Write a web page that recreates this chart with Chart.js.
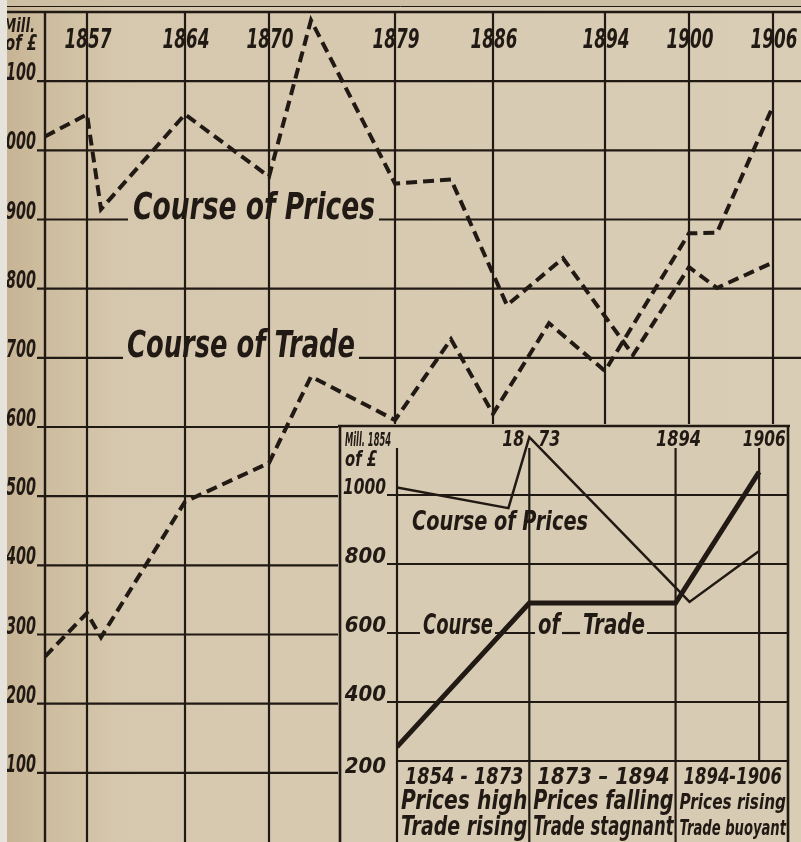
<!DOCTYPE html>
<html>
<head>
<meta charset="utf-8">
<title>Course of Prices and Course of Trade</title>
<script src="https://cdn.jsdelivr.net/npm/chart.js@4.4.0/dist/chart.umd.min.js"></script>
<style>
  html, body { margin: 0; padding: 0; background: #d8cbb3; }
  #wrap { position: relative; width: 801px; height: 842px; overflow: hidden; }
  #mainChart { position: absolute; left: 0; top: 0; width: 801px; height: 842px; }
  #insetChart { position: absolute; left: 338px; top: 424px; width: 452px; height: 418px; }
</style>
</head>
<body>
<div id="wrap">
  <canvas id="mainChart" width="801" height="842"></canvas>
  <canvas id="insetChart" width="452" height="418"></canvas>
</div>
<script>
// data (Mill. of £)

let priceYears = [1854, 1857, 1858, 1864, 1870, 1873, 1879, 1883, 1887, 1891, 1896, 1900, 1902, 1906];
let priceValues = [1020, 1052, 915, 1052, 962, 1188, 952, 958, 776, 844, 704, 831, 801, 838];

let tradeYears = [1854, 1857, 1858, 1864, 1870, 1873, 1879, 1883, 1886, 1890, 1894, 1900, 1902, 1906];
let tradeValues = [268, 331, 296, 492, 548, 673, 610, 727, 619, 750, 681, 880, 881, 1064];

let mainYearTicks = [1857, 1864, 1870, 1879, 1886, 1894, 1900, 1906];
let mainValueTicks = [100, 200, 300, 400, 500, 600, 700, 800, 900, 1000, 1100];

// small summary chart
let insetPriceYears = [1854, 1870, 1873, 1896, 1906];
let insetPriceValues = [1022, 962, 1168, 690, 838];
let insetTradeYears = [1854, 1873, 1894, 1906];
let insetTradeValues = [270, 687, 687, 1067];

let insetYearTicks = [1854, 1873, 1894, 1906];
let insetValueTicks = [200, 400, 600, 800, 1000];

let periodLabels = [
  ['1854 - 1873', 'Prices high', 'Trade rising'],
  ['1873 \u2013 1894', 'Prices falling', 'Trade stagnant'],
  ['1894-1906', 'Prices rising', 'Trade buoyant']
];

let ink = '#211913';
let paper = '#d8cbb3';
let fontFamily = '"Liberation Sans Narrow", "DejaVu Sans Condensed", "Roboto Condensed", sans-serif';

// where the inset sits on the big chart
let insetLeft = 340;
let insetTop = 426;

function pts(xs, ys) {
  return xs.map((x, i) => ({ x: x, y: ys[i] }));
}

function seg(ctx, x1, y1, x2, y2) {
  ctx.beginPath();
  ctx.moveTo(x1, y1);
  ctx.lineTo(x2, y2);
  ctx.stroke();
}

// writes text, returns the width it took
function write(ctx, s, x, y, size, align, maxW) {
  ctx.font = 'italic bold ' + size + 'px ' + fontFamily;
  ctx.textAlign = align || 'left';
  ctx.textBaseline = 'alphabetic';
  ctx.fillStyle = ink;
  let w = ctx.measureText(s).width;
  if (maxW) {
    ctx.fillText(s, x, y, maxW);
    w = Math.min(w, maxW);
  } else {
    ctx.fillText(s, x, y);
  }
  return w;
}

function gappedLine(ctx, x1, x2, y, gaps) {
  let start = x1;
  gaps.forEach(g => {
    if (g[0] > start) seg(ctx, start, y, g[0], y);
    start = Math.max(start, g[1]);
  });
  if (x2 > start) seg(ctx, start, y, x2, y);
}


//big chart

let mainDecor = {
  id: 'mainDecor',
  beforeDraw(chart) {
    let ctx = chart.ctx;
    let g = ctx.createLinearGradient(0, 0, chart.width, 0);
    g.addColorStop(0, '#c6b293');
    g.addColorStop(0.05, '#cdbc9e');
    g.addColorStop(0.15, '#d6c8ae');
    g.addColorStop(1, '#d9cdb6');
    ctx.save();
    ctx.fillStyle = g;
    ctx.fillRect(0, 0, chart.width, chart.height);
    ctx.fillStyle = '#cdbfa4';
    ctx.fillRect(0, 0, chart.width, 7);
    ctx.restore();
  },
  beforeDatasetsDraw(chart) {
    let ctx = chart.ctx, a = chart.chartArea, xs = chart.scales.x, ys = chart.scales.y;
    ctx.save();

    // series names sit on the 900 and 700 lines
    let pW = write(ctx, 'Course of Prices', 133, ys.getPixelForValue(900) - 1, 38, 'left', 242);
    let tW = write(ctx, 'Course of Trade', 127, ys.getPixelForValue(700) - 1, 37, 'left', 228);
    let gaps = { 900: [[128, 133 + pW + 4]], 700: [[123, 127 + tW + 4]] };

    ctx.strokeStyle = ink;
    ctx.lineWidth = 1;
    seg(ctx, 0, 6.5, chart.width, 6.5);
    ctx.lineWidth = 2.4;
    seg(ctx, 0, a.top, chart.width, a.top);
    seg(ctx, a.left, a.top, a.left, a.bottom);

    ctx.lineWidth = 2.2;
    mainValueTicks.forEach(v => {
      let y = ys.getPixelForValue(v);
      let right = y > insetTop ? insetLeft : a.right;
      gappedLine(ctx, 37, right, y, gaps[v] || []);
      let s = String(v);
      write(ctx, s, 36, y - 1, 24, 'right', 10 * s.length);
    });

    mainYearTicks.forEach(yr => {
      let x = xs.getPixelForValue(yr);
      let bottom = x > insetLeft ? insetTop : a.bottom;
      seg(ctx, x, a.top, x, bottom);
      write(ctx, String(yr), x + 1, 48, 27, 'center', 47);
    });

    write(ctx, 'Mill.', 35, 32, 19, 'right', 32);
    write(ctx, 'of \u00a3', 37, 50, 21, 'right', 32);
    ctx.restore();
  },
  afterDraw(chart) {
    // pale edge of the scan
    let ctx = chart.ctx;
    ctx.save();
    ctx.fillStyle = '#e6e3dd';
    ctx.fillRect(0, 0, 7, chart.height);
    ctx.restore();
  }
};

let dashed = {
  borderColor: ink,
  borderWidth: 4,
  borderDash: [11, 6],
  borderCapStyle: 'butt',
  borderJoinStyle: 'miter',
  pointRadius: 0,
  tension: 0,
  fill: false
};

let mainChart = new Chart(document.getElementById('mainChart').getContext('2d'), {
  type: 'line',
  data: {
    datasets: [
      Object.assign({ label: 'Course of Prices', data: pts(priceYears, priceValues) }, dashed),
      Object.assign({ label: 'Course of Trade', data: pts(tradeYears, tradeValues) }, dashed)
    ]
  },
  options: {
    responsive: false,
    animation: false,
    layout: { padding: { left: 45, top: 12, right: 0, bottom: 0 } },
    scales: {
      x: { type: 'linear', min: 1854, max: 1908, display: false },
      y: { type: 'linear', min: 0, max: 1200, display: false }
    },
    plugins: {
      legend: { display: false },
      tooltip: { enabled: false }
    }
  },
  plugins: [mainDecor]
});


//inset chart

let insetDecor = {
  id: 'insetDecor',
  beforeDraw(chart) {
    let ctx = chart.ctx;
    ctx.save();
    ctx.fillStyle = paper;
    ctx.fillRect(0, 0, chart.width, chart.height);
    ctx.restore();
  },
  beforeDatasetsDraw(chart) {
    let ctx = chart.ctx, xs = chart.scales.x, ys = chart.scales.y;
    let right = chart.width - 2;
    let boxTop = 337;
    let lineTop = 24;
    ctx.save();

    // frame
    ctx.strokeStyle = ink;
    ctx.lineWidth = 2.6;
    seg(ctx, 0, 2, chart.width, 2);
    seg(ctx, 2, 2, 2, chart.height);
    seg(ctx, right, 2, right, chart.height);

    // word pieces on the 600 line
    let y600 = ys.getPixelForValue(600) + 1;
    let w1 = write(ctx, 'Course', 85, y600, 28, 'left', 70);
    let w2 = write(ctx, 'of', 200, y600, 28, 'left', 22);
    let w3 = write(ctx, 'Trade', 245, y600, 28, 'left', 62);
    let gap600 = [[82, 85 + w1 + 2], [197, 200 + w2 + 2], [242, 245 + w3 + 2]];

    write(ctx, 'Course of Prices', 74, 106, 27, 'left', 176);

    ctx.lineWidth = 2.2;
    insetValueTicks.forEach(v => {
      let y = ys.getPixelForValue(v);
      if (v > 200) gappedLine(ctx, 49, right, y, v === 600 ? gap600 : []);
      write(ctx, String(v), 48, v === 200 ? y + 2 : y - 1, 22, 'right', 43);
    });

    insetYearTicks.forEach(yr => {
      let x = xs.getPixelForValue(yr);
      seg(ctx, x, lineTop, x, yr === 1906 ? boxTop : chart.height);
    });

    // table of periods
    seg(ctx, xs.getPixelForValue(1854), boxTop, right, boxTop);
    let cells = [
      [xs.getPixelForValue(1854), xs.getPixelForValue(1873)],
      [xs.getPixelForValue(1873), xs.getPixelForValue(1894)],
      [xs.getPixelForValue(1894), right]
    ];
    periodLabels.forEach((lines, i) => {
      let mid = (cells[i][0] + cells[i][1]) / 2 + 1;
      let w = cells[i][1] - cells[i][0] - 6;
      let small = i === 2 ? 4 : 0;
      write(ctx, lines[0], mid, 360, 23, 'center', w - 8);
      write(ctx, lines[1], mid, 385, 26 - small, 'center', w);
      write(ctx, lines[2], mid, 411, 26 - small, 'center', w);
    });

    // axis words along the top
    write(ctx, 'Mill. 1854', 7, 22, 20, 'left', 46);
    write(ctx, 'of \u00a3', 7, 42, 21, 'left', 32);
    let x73 = xs.getPixelForValue(1873);
    write(ctx, '18', x73 - 5, 22, 21, 'right', 22);
    write(ctx, '73', x73 + 9, 22, 21, 'left', 22);
    write(ctx, '1894', xs.getPixelForValue(1894) + 3, 22, 21, 'center', 45);
    write(ctx, '1906', xs.getPixelForValue(1906) + 5, 22, 21, 'center', 43);
    ctx.restore();
  }
};

let insetChart = new Chart(document.getElementById('insetChart').getContext('2d'), {
  type: 'line',
  data: {
    datasets: [
      {
        label: 'Course of Prices',
        data: pts(insetPriceYears, insetPriceValues),
        borderColor: ink,
        borderWidth: 2.5,
        pointRadius: 0,
        tension: 0,
        borderJoinStyle: 'miter'
      },
      {
        label: 'Course of Trade',
        data: pts(insetTradeYears, insetTradeValues),
        borderColor: ink,
        borderWidth: 5,
        pointRadius: 0,
        tension: 0,
        borderJoinStyle: 'miter'
      }
    ]
  },
  options: {
    responsive: false,
    animation: false,
    layout: { padding: { left: 59, top: 2, right: 3, bottom: 2 } },
    scales: {
      x: { type: 'linear', min: 1854, max: 1910, display: false },
      y: { type: 'linear', min: 0, max: 1200, display: false }
    },
    plugins: {
      legend: { display: false },
      tooltip: { enabled: false }
    }
  },
  plugins: [insetDecor]
});
</script>
</body>
</html>
